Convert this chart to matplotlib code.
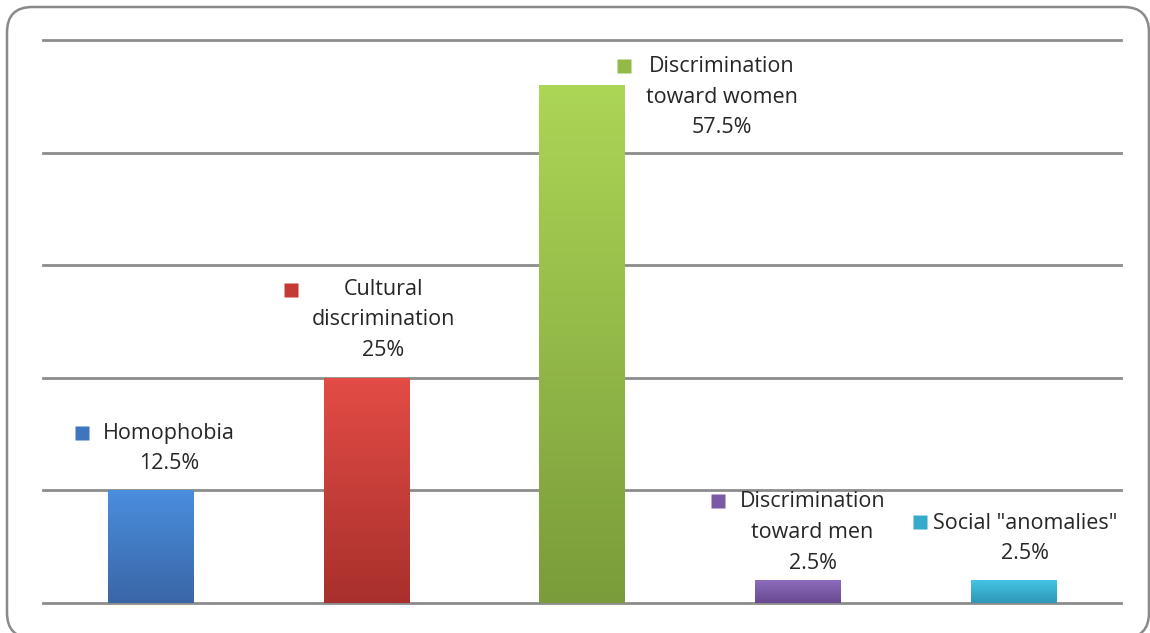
import numpy as np
import matplotlib.pyplot as plt
from matplotlib.colors import LinearSegmentedColormap
from matplotlib.patches import FancyBboxPatch
from matplotlib.transforms import offset_copy

plt.rcParams['font.family'] = ['Open Sans', 'DejaVu Sans']

# data ------------------------------------------------------------------
categories = ["Homophobia", "Cultural\ndiscrimination", "Discrimination\ntoward women",
              "Discrimination\ntoward men", "Social \"anomalies\""]
values = [12.5, 25, 57.5, 2.5, 2.5]
value_labels = ["12.5%", "25%", "57.5%", "2.5%", "2.5%"]

# (top colour, bottom colour) of each bar's gradient
bar_colors = [("#4a8ede", "#3a66a6"), ("#e44c46", "#a8302c"), ("#acd656", "#7a9c3a"),
              ("#8e6cbc", "#684890"), ("#44c4e4", "#2e96b6")]
key_colors = ["#3f74bf", "#c43b36", "#93b948", "#7a5aa6", "#36aacb"]

# label placement in pixels relative to bar top centre: text centre (dx, dy), key (dx, dy)
text_off = [(18, 42), (17, 58), (140, -12), (15, 48), (12, 42)]
key_off = [(-69, 57), (-75, 88), (42, 19), (-80, 79), (-93, 58)]

fig = plt.figure(figsize=(11.5, 6.33), dpi=100)
W, H = 1150, 633
ax = fig.add_axes([43 / W, 1 - 603 / H, (1121 - 43) / W, (603 - 40) / H])

x = np.arange(len(values))
bars = ax.bar(x, values, width=0.395, color="none", edgecolor="none", zorder=3)

grad = np.linspace(0, 1, 256).reshape(-1, 1)
for b, (top, bottom) in zip(bars, bar_colors):
    cmap = LinearSegmentedColormap.from_list("g", [bottom, top])
    im = ax.imshow(grad, cmap=cmap, origin="lower", aspect="auto", zorder=3,
                   extent=(b.get_x(), b.get_x() + b.get_width(), 0, b.get_height()))
    im.set_clip_path(b)

ax.set_xlim(-0.5, len(values) - 0.5)
ax.set_ylim(0, 62.5)
ax.set_yticks(np.arange(0, 62.6, 12.5))
ax.yaxis.grid(True, color="#8c8c8c", lw=2.0, zorder=1)
for gl in ax.get_ygridlines():
    gl.set_clip_on(False)
ax.set_axisbelow(True)
ax.tick_params(left=False, bottom=False, labelleft=False, labelbottom=False)
for s in ax.spines.values():
    s.set_visible(False)

for i, b in enumerate(bars):
    cx = b.get_x() + b.get_width() / 2
    top = b.get_height()
    ax.annotate(categories[i] + "\n" + value_labels[i], (cx, top),
                xytext=text_off[i], textcoords="offset pixels",
                ha="center", va="center", fontsize=15.5, color="#262626",
                linespacing=1.6, multialignment="center", zorder=5)
    tr = offset_copy(ax.transData, fig=fig, x=key_off[i][0], y=key_off[i][1], units="dots")
    ax.plot([cx], [top], marker="s", ms=9.5, color=key_colors[i], mec="none",
            transform=tr, clip_on=False, zorder=5)

border = FancyBboxPatch((7 / W, 1 - 638 / H), (1149 - 7) / W, (638 - 7) / H,
                        boxstyle="round,pad=0,rounding_size=0.022",
                        transform=fig.transFigure, fill=False,
                        edgecolor="#8a8a8a", lw=1.8, mutation_aspect=W / H)
fig.patches.append(border)

fig.savefig("out.png", dpi=100)
